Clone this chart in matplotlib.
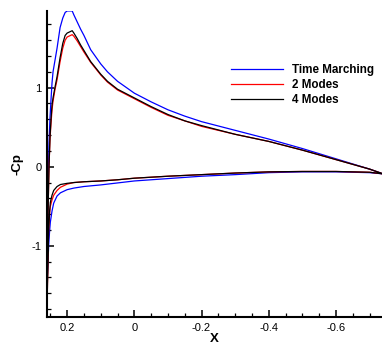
import matplotlib
matplotlib.use("Agg")
import matplotlib.pyplot as plt
from matplotlib.ticker import MultipleLocator

plt.rcParams['font.family'] = ['Liberation Sans', 'DejaVu Sans']

# Upper surface
x_upper = [0.259, 0.257, 0.254, 0.251, 0.248, 0.245, 0.242, 0.236, 0.23, 0.221, 0.213, 0.206,
           0.2, 0.19, 0.185, 0.18, 0.17, 0.16, 0.15, 0.13, 0.1, 0.08, 0.05, 0.0, -0.05,
           -0.1, -0.15, -0.2, -0.3, -0.4, -0.5, -0.6, -0.7, -0.74]
tm_upper = [-1.4, -0.3, 0.3, 0.62, 0.85, 1.06, 1.2, 1.35, 1.5, 1.76, 1.88, 1.95,
            1.97, 1.97, 1.97, 1.92, 1.83, 1.74, 1.66, 1.48, 1.30, 1.20, 1.08, 0.93, 0.82,
            0.72, 0.64, 0.57, 0.46, 0.35, 0.23, 0.10, -0.03, -0.09]
m2_upper = [-1.55, -0.6, 0.0, 0.35, 0.55, 0.72, 0.83, 0.98, 1.1, 1.33, 1.5, 1.6,
            1.64, 1.66, 1.67, 1.65, 1.59, 1.52, 1.45, 1.32, 1.16, 1.07, 0.97, 0.86, 0.75,
            0.65, 0.58, 0.51, 0.41, 0.32, 0.21, 0.09, -0.03, -0.09]
m4_upper = [-1.55, -0.6, 0.0, 0.38, 0.6, 0.78, 0.87, 1.01, 1.14, 1.38, 1.56, 1.66,
            1.69, 1.71, 1.72, 1.69, 1.62, 1.54, 1.47, 1.33, 1.17, 1.08, 0.98, 0.87, 0.76,
            0.66, 0.58, 0.52, 0.41, 0.32, 0.21, 0.09, -0.03, -0.09]

# Lower surface
x_lower = [0.259, 0.257, 0.255, 0.252, 0.25, 0.245, 0.24, 0.23, 0.22, 0.2, 0.18, 0.15,
           0.1, 0.05, 0.0, -0.1, -0.2, -0.3, -0.4, -0.5, -0.6, -0.7, -0.74]
tm_lower = [-1.4, -1.2, -1.0, -0.8, -0.7, -0.56, -0.46, -0.37, -0.33, -0.29, -0.27, -0.25,
            -0.23, -0.205, -0.18, -0.15, -0.12, -0.1, -0.075, -0.065, -0.065, -0.075, -0.09]
m2_lower = [-1.6, -1.1, -0.8, -0.58, -0.5, -0.42, -0.36, -0.3, -0.26, -0.22, -0.2, -0.19,
            -0.18, -0.165, -0.145, -0.12, -0.1, -0.08, -0.065, -0.06, -0.06, -0.07, -0.09]
m4_lower = [-1.6, -1.1, -0.8, -0.55, -0.45, -0.36, -0.3, -0.25, -0.225, -0.21, -0.2, -0.19,
            -0.18, -0.165, -0.145, -0.12, -0.1, -0.08, -0.065, -0.06, -0.06, -0.07, -0.09]

series = [("Time Marching", tm_upper, tm_lower, "#0000ff"),
          ("2 Modes", m2_upper, m2_lower, "#ff0000"),
          ("4 Modes", m4_upper, m4_lower, "#000000")]

fig = plt.figure(figsize=(3.82, 3.47), dpi=100)
ax = fig.add_axes([0.123, 0.0865, 0.877, 0.882])

for name, up, lo, c in series:
    ax.plot(x_upper[::-1] + x_lower, up[::-1] + lo, color=c, lw=0.9, label=name)

ax.set_xlim(0.26, -0.737)
ax.set_ylim(-1.9, 1.97)

ax.xaxis.set_major_locator(MultipleLocator(0.2))
ax.xaxis.set_minor_locator(MultipleLocator(0.05))
ax.yaxis.set_major_locator(MultipleLocator(1))
ax.yaxis.set_minor_locator(MultipleLocator(0.2))
ax.xaxis.set_major_formatter(plt.FuncFormatter(lambda v, p: ("%g" % round(v, 2))))
ax.yaxis.set_major_formatter(plt.FuncFormatter(lambda v, p: ("%g" % round(v, 2))))

for s in ['top', 'right']:
    ax.spines[s].set_visible(False)
for s in ['left', 'bottom']:
    ax.spines[s].set_linewidth(1.5)

ax.tick_params(which='major', direction='in', length=5, width=1.1, labelsize=8, pad=4)
ax.tick_params(which='minor', direction='in', length=3, width=0.9)

ax.set_xlabel("X", fontsize=9.5, fontweight='bold', labelpad=0)
ax.set_ylabel("-Cp", fontsize=9.5, fontweight='bold', labelpad=6)

leg = ax.legend(loc='upper left', bbox_to_anchor=(0.549, 0.826), frameon=False,
                prop={'size': 8.4, 'weight': 'bold'}, handlelength=4.5, handletextpad=0.75,
                labelspacing=0.25, borderaxespad=0, borderpad=0)

fig.savefig("out.png", dpi=100)
